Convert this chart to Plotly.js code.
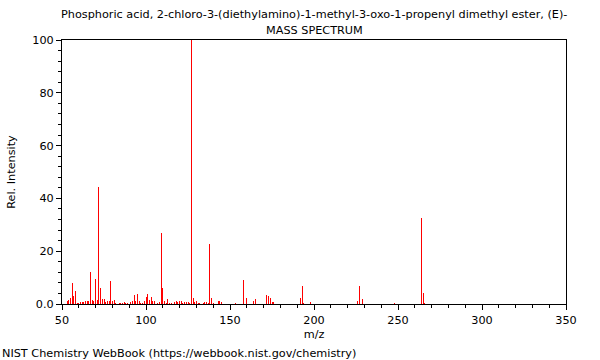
<!DOCTYPE html>
<html>
<head>
<meta charset="utf-8">
<script src="https://cdn.plot.ly/plotly-3.0.1.min.js"></script>
<style>
html,body{margin:0;padding:0;background:#fff;}
#chart{width:600px;height:360px;}
</style>
</head>
<body>
<div id="chart"></div>
<script>
const mz = [53,54,55,56,57,58,59,60,61,62,63,64,65,66,67,68,69,70,71,72,73,74,75,76,77,78,79,80,81,82,84,85,86,87,88,89,91,92,93,94,95,96,97,98,99,100,101,102,103,104,105,107,108,109,110,111,112,113,114,115,117,118,119,120,121,122,123,124,125,126,127,128,129,130,131,132,134,135,136,137,138,139,140,143,144,145,153,158,160,164,165,172,173,174,175,176,192,193,194,198,226,227,229,248,264,265,266];
const intensity = [1.1,1.5,2.4,7.8,3.0,4.9,0.5,0.4,0.8,0.6,0.8,1.0,1.2,1.0,12.0,1.5,1.0,9.3,1.5,44.4,5.9,2.0,1.8,0.6,1.0,1.0,8.7,1.2,1.5,0.5,0.3,0.4,0.5,0.6,0.5,0.5,0.8,1.0,3.4,1.2,3.8,1.0,0.5,0.4,1.0,2.8,3.8,1.7,2.8,1.0,1.0,0.4,0.8,26.8,6.2,1.0,0.4,2.0,0.5,0.3,0.8,1.0,0.8,1.2,1.0,0.5,0.8,0.6,0.6,0.4,100,2.3,0.6,1.3,0.5,0.3,0.3,0.8,0.6,0.4,22.7,2.3,0.4,1.0,1.0,0.6,0.5,9.1,2.3,1.2,2.0,3.4,3.2,2.4,0.8,0.8,2.4,6.8,0.3,0.8,1.0,6.9,1.8,0.3,32.4,4.0,0.4];
const xTicks = [50,100,150,200,250,300,350];
const yTickVals = [0,20,40,60,80,100];
const yTickText = ['0.0','20','40','60','80','100'];
const titleLine1 = 'Phosphoric acid, 2-chloro-3-(diethylamino)-1-methyl-3-oxo-1-propenyl dimethyl ester, (E)-';
const titleLine2 = 'MASS SPECTRUM';
const footer = 'NIST Chemistry WebBook (https://webbook.nist.gov/chemistry)';

const font = {family: 'DejaVu Sans, sans-serif', size: 11.25, color: '#000'};

const trace = {
  type: 'bar',
  x: mz,
  y: intensity,
  width: 0.6,
  marker: {color: '#ff0000', line: {width: 0}},
  hoverinfo: 'x+y'
};

const layout = {
  width: 600, height: 360,
  margin: {l: 62, r: 34, t: 40, b: 56},
  paper_bgcolor: '#fff', plot_bgcolor: '#fff',
  font: font,
  showlegend: false,
  bargap: 0,
  xaxis: {
    range: [50, 350],
    tickvals: xTicks,
    ticktext: xTicks.map(String),
    ticks: 'outside', ticklen: 5, tickwidth: 1, tickcolor: '#000',
    minor: {dtick: 10, ticks: 'outside', ticklen: 3, tickcolor: '#000', showgrid: false},
    showgrid: false, zeroline: false,
    showline: true, linecolor: '#000', linewidth: 1, mirror: true,
    title: {text: 'm/z', font: font, standoff: 4},
    tickfont: font
  },
  yaxis: {
    range: [0, 100],
    tickvals: yTickVals,
    ticktext: yTickText,
    ticks: 'outside', ticklen: 5, tickwidth: 1, tickcolor: '#000',
    minor: {dtick: 4, ticks: 'outside', ticklen: 3, tickcolor: '#000', showgrid: false},
    showgrid: false, zeroline: false,
    showline: true, linecolor: '#000', linewidth: 1, mirror: true,
    title: {text: 'Rel. Intensity', font: font, standoff: 14},
    tickfont: font
  },
  annotations: [
    {text: titleLine1, xref: 'paper', yref: 'paper', x: 0.5, y: 1, yshift: 26, showarrow: false, font: font, xanchor: 'center', yanchor: 'middle'},
    {text: titleLine2, xref: 'paper', yref: 'paper', x: 0.5, y: 1, yshift: 10, showarrow: false, font: font, xanchor: 'center', yanchor: 'middle'},
    {text: footer, xref: 'paper', yref: 'paper', x: 0, xshift: -62, y: 0, yshift: -49, showarrow: false, font: font, xanchor: 'left', yanchor: 'middle'}
  ]
};

Plotly.newPlot('chart', [trace], layout, {displayModeBar: false, staticPlot: true});
</script>
</body>
</html>
